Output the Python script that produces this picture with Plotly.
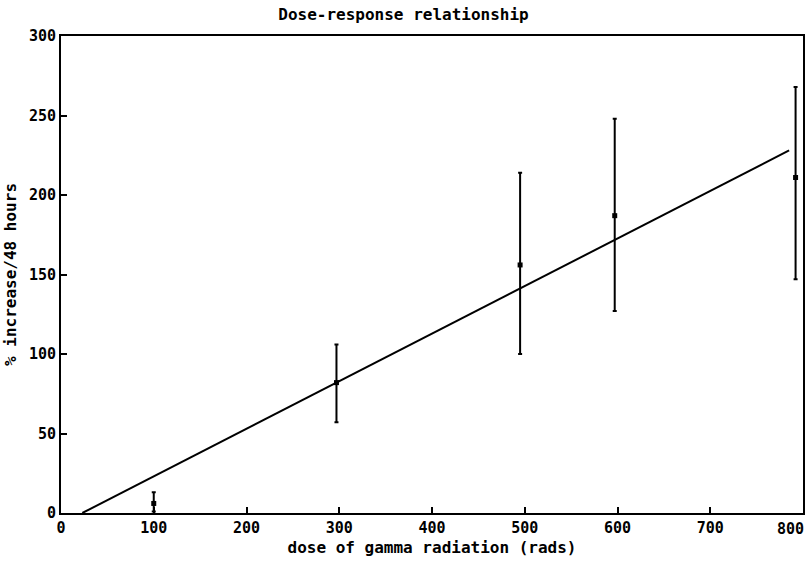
import plotly.graph_objects as go

# Data
dose = [100, 297, 495, 597, 792]
mean_increase = [6, 82, 156, 187, 211]
upper = [13, 106, 214, 248, 268]
lower = [1, 57, 100, 127, 147]

fit_x = [23, 785]
fit_y = [0, 228]

x_ticks = [0, 100, 200, 300, 400, 500, 600, 700, 800]
x_tick_labels = ["0", "100", "200", "300", "400", "500", "600", "700", ""]
last_x_label = "800"
y_ticks = [0, 50, 100, 150, 200, 250, 300]

err_plus = [u - m for u, m in zip(upper, mean_increase)]
err_minus = [m - l for m, l in zip(mean_increase, lower)]

FONT = "DejaVu Sans Mono"

fig = go.Figure()
fig.add_trace(go.Scatter(
    x=fit_x, y=fit_y, mode="lines",
    line=dict(color="black", width=2),
    showlegend=False, hoverinfo="skip", cliponaxis=False,
))
fig.add_trace(go.Scatter(
    x=dose, y=mean_increase, mode="markers",
    marker=dict(color="black", size=5, symbol="square"),
    error_y=dict(type="data", symmetric=False, array=err_plus,
                 arrayminus=err_minus, color="black", thickness=2, width=2),
    showlegend=False, cliponaxis=False,
))

axis_common = dict(
    showgrid=False, zeroline=False, showline=True, linecolor="black",
    linewidth=2, mirror=True, ticks="inside", ticklen=6, tickwidth=2,
    tickcolor="black", automargin=False, ticklabeloverflow="allow",
    tickfont=dict(family=FONT, size=15, color="black", weight="bold"),
)

fig.add_annotation(
    x=x_ticks[-1], y=0, xref="x", yref="y", text=last_x_label,
    showarrow=False, xanchor="right", yanchor="top", xshift=3, yshift=-5,
    font=dict(family=FONT, size=15, color="black", weight="bold"),
)

fig.update_layout(
    width=807, height=562,
    margin=dict(l=61, r=4, t=36, b=49, autoexpand=False),
    paper_bgcolor="white", plot_bgcolor="white",
    title=dict(text="Dose-response relationship", x=0.5, xanchor="center",
               y=0.985, yanchor="top", automargin=False,
               font=dict(family=FONT, size=16, color="black", weight="bold")),
    xaxis=dict(range=[0, 800], tickvals=x_ticks,
               ticktext=x_tick_labels,
               title=dict(text="dose of gamma radiation (rads)", standoff=6,
                          font=dict(family=FONT, size=16, color="black", weight="bold")),
               **axis_common),
    yaxis=dict(range=[0, 300], tickvals=y_ticks,
               ticktext=[str(v) for v in y_ticks],
               title=dict(text="% increase/48 hours", standoff=8,
                          font=dict(family=FONT, size=16, color="black", weight="bold")),
               **axis_common),
)

fig.write_html("out.html", config={"displayModeBar": False},
               post_script="document.body.style.margin='0';document.body.style.overflow='hidden';")
